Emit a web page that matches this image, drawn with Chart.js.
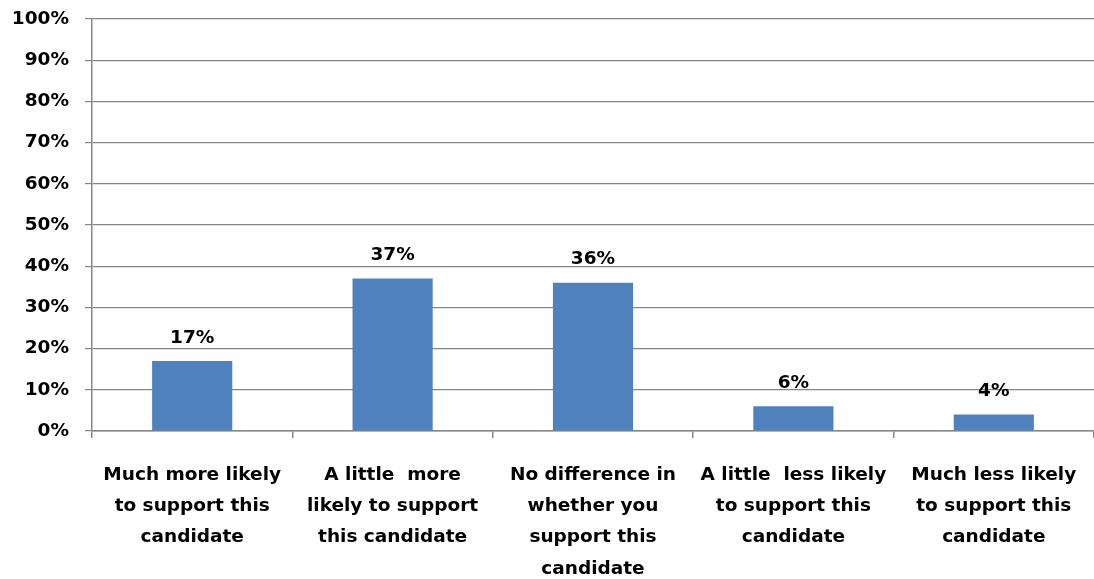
<!DOCTYPE html>
<html>
<head>
<meta charset="utf-8">
<script src="https://cdn.jsdelivr.net/npm/chart.js@4.4.0/dist/chart.umd.min.js"></script>
<style>
  html, body { margin: 0; padding: 0; background: #fff; }
  #wrap { width: 1094px; height: 579px; position: relative; }
</style>
</head>
<body>
<div id="wrap"><canvas id="chart"></canvas></div>
<script>
// カテゴリと値
const categories = [
  ["Much more likely", "to support this", "candidate"],
  ["A little  more", "likely to support", "this candidate"],
  ["No difference in", "whether you", "support this", "candidate"],
  ["A little  less likely", "to support this", "candidate"],
  ["Much less likely", "to support this", "candidate"]
]
const values = [17, 37, 36, 6, 4]
const valueLabels = ["17%", "37%", "36%", "6%", "4%"]

const FONT = "'DejaVu Sans', 'Liberation Sans', sans-serif"
const GRID = "#868686"

// 棒の上に値ラベルを描く
const barLabels = {
  id: "barLabels",
  afterDatasetsDraw(chart) {
    const ctx = chart.ctx
    const meta = chart.getDatasetMeta(0)
    ctx.save()
    ctx.font = "bold 18.5px " + FONT
    ctx.fillStyle = "#000"
    ctx.textAlign = "center"
    ctx.textBaseline = "bottom"
    meta.data.forEach((bar, i) => {
      ctx.fillText(valueLabels[i], bar.x, bar.y - 14)
    })
    ctx.restore()
  }
}

new Chart(document.getElementById("chart"), {
  type: "bar",
  data: {
    labels: categories,
    datasets: [{
      data: values,
      backgroundColor: "#4F81BD",
      barPercentage: 0.4,
      categoryPercentage: 1.0
    }]
  },
  options: {
    responsive: true,
    maintainAspectRatio: false,
    animation: false,
    layout: { padding: { top: 19, right: 0, left: 0, bottom: 0 } },
    plugins: {
      legend: { display: false },
      tooltip: { enabled: false }
    },
    scales: {
      y: {
        min: 0,
        max: 100,
        afterFit: s => { s.width = 92; s.paddingTop = 0; s.paddingBottom = 0 },
        ticks: {
          stepSize: 10,
          padding: 16,
          color: "#000",
          font: { family: FONT, size: 18.5, weight: "bold" },
          callback: v => v + "%"
        },
        grid: { color: GRID, lineWidth: 1.2, tickLength: 7 },
        border: { color: GRID, width: 1.5 }
      },
      x: {
        afterFit: s => { s.height = 148; s.paddingLeft = 0; s.paddingRight = 0 },
        ticks: {
          padding: 21,
          color: "#000",
          maxRotation: 0,
          autoSkip: false,
          font: { family: FONT, size: 18.5, weight: "bold", lineHeight: 1.7 }
        },
        grid: { drawOnChartArea: false, color: GRID, lineWidth: 1.5, tickLength: 7 },
        border: { color: GRID, width: 1.5 }
      }
    }
  },
  plugins: [barLabels]
})
</script>
</body>
</html>
